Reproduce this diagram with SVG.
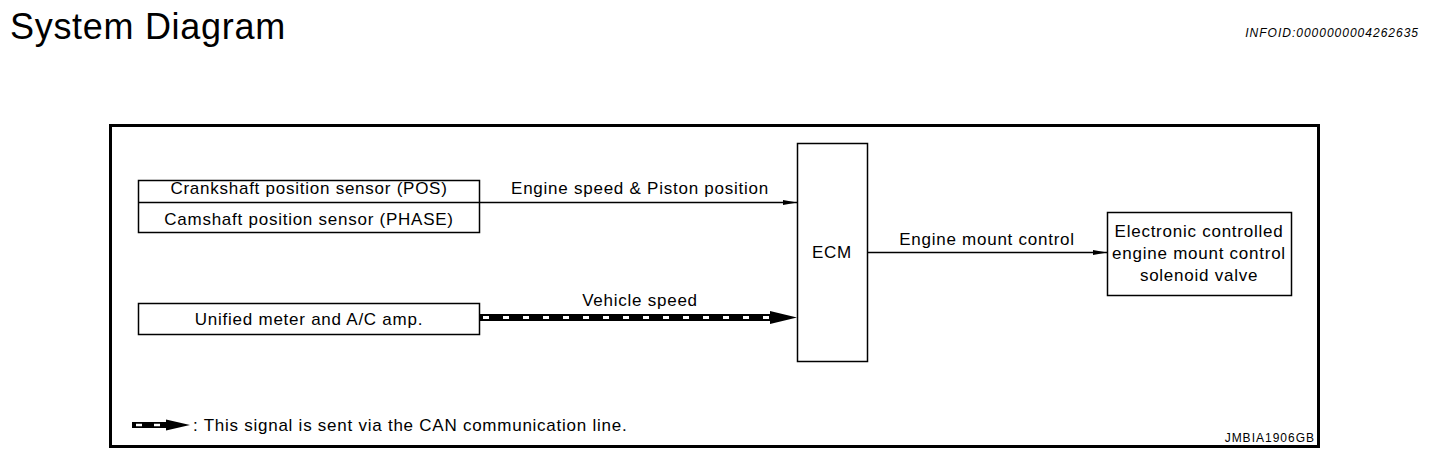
<svg xmlns="http://www.w3.org/2000/svg" width="1440" height="458" viewBox="0 0 1440 458">
<defs>
<style>
text{font-family:"Liberation Sans",Arial,sans-serif;fill:#000}
.lbl{font-size:17px;letter-spacing:0.75px}
.mid{text-anchor:middle}
.box{fill:#fff;stroke:#000;stroke-width:1.5}
.ln{stroke:#000;stroke-width:1.5;fill:none}
</style>
<marker id="ah" markerWidth="14" markerHeight="8" refX="14" refY="4" orient="auto" markerUnits="userSpaceOnUse">
<path d="M0,1.5 L14,4 L0,6.5 Z" fill="#000"/>
</marker>
</defs>
<rect width="1440" height="458" fill="#fff"/>
<text x="10" y="39" font-size="36" letter-spacing="0.7">System Diagram</text>
<text x="1419" y="37" font-size="12" font-style="italic" letter-spacing="1" text-anchor="end">INFOID:0000000004262635</text>
<rect x="110.5" y="125.5" width="1208" height="321" fill="none" stroke="#000" stroke-width="3"/>

<g id="sensors">
<rect class="box" x="138.5" y="180.5" width="341" height="52"/>
<line class="ln" x1="138.5" y1="202.5" x2="479.5" y2="202.5"/>
<text class="lbl mid" x="309" y="194">Crankshaft position sensor (POS)</text>
<text class="lbl mid" x="309" y="225">Camshaft position sensor (PHASE)</text>
</g>
<g id="unified">
<rect class="box" x="138.5" y="303.5" width="341" height="31"/>
<text class="lbl mid" x="309" y="325">Unified meter and A/C amp.</text>
</g>
<g id="ecm">
<rect class="box" x="797.5" y="143.5" width="70" height="218"/>
<text class="lbl mid" x="832" y="258">ECM</text>
</g>
<g id="solenoid">
<rect class="box" x="1107.5" y="212.5" width="184" height="83"/>
<text class="lbl mid" x="1199" y="237">Electronic controlled</text>
<text class="lbl mid" x="1199" y="259">engine mount control</text>
<text class="lbl mid" x="1199" y="281">solenoid valve</text>
</g>

<g id="connectors">
<line class="ln" x1="480" y1="202.5" x2="797" y2="202.5" marker-end="url(#ah)"/>
<text class="lbl mid" x="640" y="194">Engine speed &amp; Piston position</text>
<line x1="480" y1="317.5" x2="772" y2="317.5" stroke="#000" stroke-width="7"/>
<line x1="483" y1="317.5" x2="772" y2="317.5" stroke="#fff" stroke-width="3" stroke-dasharray="6 14"/>
<path d="M770,311 L797,317.5 L770,324 Z" fill="#000"/>
<text class="lbl mid" x="640" y="306">Vehicle speed</text>
<line class="ln" x1="868" y1="252.5" x2="1107" y2="252.5" marker-end="url(#ah)"/>
<text class="lbl mid" x="987" y="245">Engine mount control</text>
</g>

<g id="legend">
<line x1="132" y1="425" x2="168" y2="425" stroke="#000" stroke-width="6"/>
<line x1="136" y1="425" x2="168" y2="425" stroke="#fff" stroke-width="2.5" stroke-dasharray="6 12"/>
<path d="M166,419.5 L190,425 L166,430.5 Z" fill="#000"/>
<text class="lbl" x="193" y="431">: This signal is sent via the CAN communication line.</text>
</g>
<text x="1315" y="442" font-size="12" letter-spacing="1" text-anchor="end">JMBIA1906GB</text>
</svg>
